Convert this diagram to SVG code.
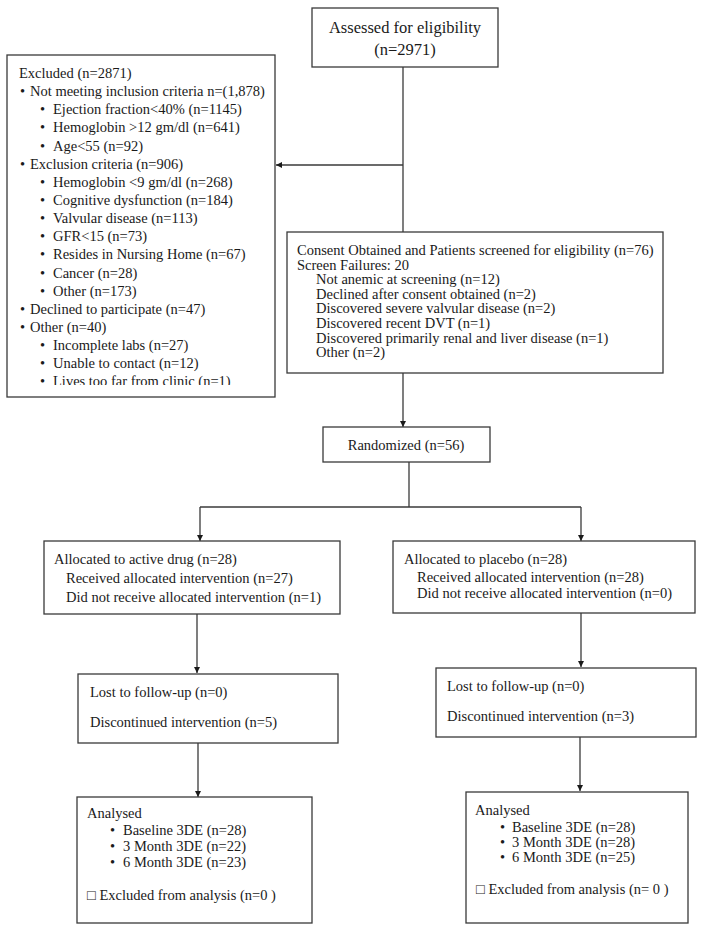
<svg xmlns="http://www.w3.org/2000/svg" width="704" height="932" viewBox="0 0 704 932">
<defs>
<style>
.box{fill:#fff;stroke:#3a3a3a;stroke-width:1.3}
.t{font-family:"Liberation Serif","DejaVu Serif",serif;font-size:14.5px;fill:#1a1a1a}
.big{font-size:16.5px}
.ln{fill:none;stroke:#3a3a3a;stroke-width:1.3}
</style>
<marker id="ah" viewBox="0 0 10 10" refX="10" refY="5" markerWidth="6" markerHeight="6" orient="auto" markerUnits="userSpaceOnUse">
<path d="M0,0 L10,5 L0,10 z" fill="#1a1a1a"/>
</marker>
<clipPath id="exclip"><rect x="7" y="55" width="268" height="330"/></clipPath>
</defs>
<rect width="704" height="932" fill="#fff"/>

<g id="connectors">
<line class="ln" x1="403" y1="67" x2="403" y2="232"/>
<line class="ln" x1="403" y1="165" x2="276" y2="165" marker-end="url(#ah)"/>
<line class="ln" x1="403" y1="373" x2="403" y2="427" marker-end="url(#ah)"/>
<polyline class="ln" points="409,462 409,507"/>
<polyline class="ln" points="200,507 581,507"/>
<line class="ln" x1="200" y1="507" x2="200" y2="541" marker-end="url(#ah)"/>
<line class="ln" x1="581" y1="507" x2="581" y2="541" marker-end="url(#ah)"/>
<line class="ln" x1="197" y1="614" x2="197" y2="673" marker-end="url(#ah)"/>
<line class="ln" x1="581" y1="613" x2="581" y2="667" marker-end="url(#ah)"/>
<line class="ln" x1="198" y1="743" x2="198" y2="797" marker-end="url(#ah)"/>
<line class="ln" x1="580" y1="737" x2="580" y2="791" marker-end="url(#ah)"/>
</g>

<g id="assessed">
<rect class="box" x="312" y="8" width="186" height="59"/>
<text class="t big" x="405" y="33" text-anchor="middle">Assessed for eligibility</text>
<text class="t big" x="405" y="55" text-anchor="middle">(n=2971)</text>
</g>

<g id="excluded">
<rect class="box" x="7" y="55" width="268" height="342"/>
<g clip-path="url(#exclip)" class="t">
<text x="19" y="78">Excluded (n=2871)</text>
<text x="20" y="96.1">•</text><text x="30" y="96.1">Not meeting inclusion criteria n=(1,878)</text>
<text x="40" y="114.3">•</text><text x="53" y="114.3">Ejection fraction&lt;40% (n=1145)</text>
<text x="40" y="132.4">•</text><text x="53" y="132.4">Hemoglobin &gt;12 gm/dl (n=641)</text>
<text x="40" y="150.6">•</text><text x="53" y="150.6">Age&lt;55 (n=92)</text>
<text x="20" y="168.7">•</text><text x="30" y="168.7">Exclusion criteria (n=906)</text>
<text x="40" y="186.8">•</text><text x="53" y="186.8">Hemoglobin &lt;9 gm/dl (n=268)</text>
<text x="40" y="205">•</text><text x="53" y="205">Cognitive dysfunction (n=184)</text>
<text x="40" y="223.1">•</text><text x="53" y="223.1">Valvular disease (n=113)</text>
<text x="40" y="241.3">•</text><text x="53" y="241.3">GFR&lt;15 (n=73)</text>
<text x="40" y="259.4">•</text><text x="53" y="259.4">Resides in Nursing Home (n=67)</text>
<text x="40" y="277.5">•</text><text x="53" y="277.5">Cancer (n=28)</text>
<text x="40" y="295.7">•</text><text x="53" y="295.7">Other (n=173)</text>
<text x="20" y="313.8">•</text><text x="30" y="313.8">Declined to participate (n=47)</text>
<text x="20" y="332">•</text><text x="30" y="332">Other (n=40)</text>
<text x="40" y="350.1">•</text><text x="53" y="350.1">Incomplete labs (n=27)</text>
<text x="40" y="368.2">•</text><text x="53" y="368.2">Unable to contact (n=12)</text>
<text x="40" y="386.4">•</text><text x="53" y="386.4">Lives too far from clinic (n=1)</text>
</g>
</g>

<g id="consent">
<rect class="box" x="287" y="232" width="376" height="141"/>
<g class="t">
<text x="297" y="255">Consent Obtained and Patients screened for eligibility (n=76)</text>
<text x="297" y="269.6">Screen Failures: 20</text>
<text x="316" y="284.2">Not anemic at screening (n=12)</text>
<text x="316" y="298.8">Declined after consent obtained (n=2)</text>
<text x="316" y="313.4">Discovered severe valvular disease (n=2)</text>
<text x="316" y="328">Discovered recent DVT (n=1)</text>
<text x="316" y="342.6">Discovered primarily renal and liver disease (n=1)</text>
<text x="316" y="357.2">Other (n=2)</text>
</g>
</g>

<g id="randomized">
<rect class="box" x="323" y="427" width="167" height="35"/>
<text class="t" x="406" y="449.5" text-anchor="middle">Randomized (n=56)</text>
</g>

<g id="alloc-active">
<rect class="box" x="44" y="541" width="296" height="73"/>
<g class="t">
<text x="54" y="564">Allocated to active drug (n=28)</text>
<text x="66" y="583">Received allocated intervention (n=27)</text>
<text x="66" y="602">Did not receive allocated intervention (n=1)</text>
</g>
</g>

<g id="alloc-placebo">
<rect class="box" x="393" y="541" width="302" height="72"/>
<g class="t">
<text x="404" y="564">Allocated to placebo (n=28)</text>
<text x="417" y="582">Received allocated intervention (n=28)</text>
<text x="417" y="598">Did not receive allocated intervention (n=0)</text>
</g>
</g>

<g id="lost-active">
<rect class="box" x="78" y="674" width="260" height="69"/>
<g class="t">
<text x="90" y="697">Lost to follow-up (n=0)</text>
<text x="90" y="727">Discontinued intervention (n=5)</text>
</g>
</g>

<g id="lost-placebo">
<rect class="box" x="436" y="668" width="260" height="69"/>
<g class="t">
<text x="447" y="691">Lost to follow-up (n=0)</text>
<text x="447" y="721">Discontinued intervention (n=3)</text>
</g>
</g>

<g id="analysed-active">
<rect class="box" x="77" y="797" width="235" height="126"/>
<g class="t">
<text x="87" y="818">Analysed</text>
<text x="110" y="835">•</text><text x="123" y="835">Baseline 3DE (n=28)</text>
<text x="110" y="851">•</text><text x="123" y="851">3 Month 3DE (n=22)</text>
<text x="110" y="867">•</text><text x="123" y="867">6 Month 3DE (n=23)</text>
<text x="87" y="900">□ Excluded from analysis (n=0 )</text>
</g>
</g>

<g id="analysed-placebo">
<rect class="box" x="466" y="792" width="222" height="131"/>
<g class="t">
<text x="475" y="815">Analysed</text>
<text x="500" y="832">•</text><text x="512" y="832">Baseline 3DE (n=28)</text>
<text x="500" y="847">•</text><text x="512" y="847">3 Month 3DE (n=28)</text>
<text x="500" y="862">•</text><text x="512" y="862">6 Month 3DE (n=25)</text>
<text x="476" y="894">□ Excluded from analysis (n= 0 )</text>
</g>
</g>
</svg>
